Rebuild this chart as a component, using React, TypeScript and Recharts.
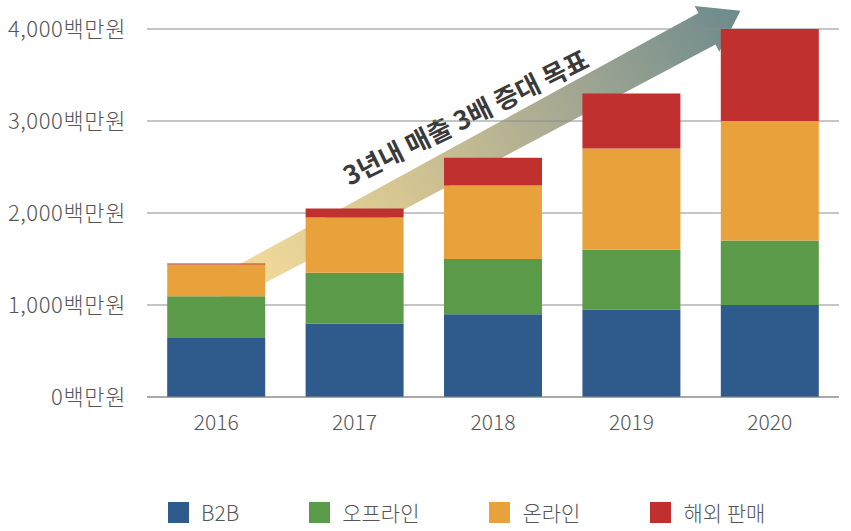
import { BarChart, Bar, XAxis, YAxis, CartesianGrid, Legend, ReferenceLine } from "recharts";

const years = ["2016", "2017", "2018", "2019", "2020"];
const seriesNames = ["B2B", "오프라인", "온라인", "해외 판매"];
const b2b = [640, 800, 900, 950, 1000];
const offline = [455, 550, 600, 650, 700];
const online = [345, 600, 800, 1100, 1300];
const overseas = [10, 100, 300, 600, 1000];
const yTicks = [0, 1000, 2000, 3000, 4000];

// 목표 화살표: 2016 중앙 → 2020 중앙을 지나는 선(값 기준)
const arrowLabel = "3년내 매출 3배 증대 목표";
const arrowFrom = 1130;
const arrowTo = 4370;

const COLORS = ["#2f5a8c", "#5b9a48", "#e9a23b", "#c0302f"];
const FONT = "'Noto Sans CJK KR', 'Noto Sans', sans-serif";

const rows = years.map((y, i) => ({
  year: y,
  b2b: b2b[i],
  offline: offline[i],
  online: online[i],
  overseas: overseas[i],
}));

function GoalArrow(props: any) {
  const { x1, y1, x2, y2 } = props;
  if (x1 == null || y1 == null) return <g />;
  const dx = x2 - x1;
  const dy = y2 - y1;
  const len = Math.hypot(dx, dy);
  const ux = dx / len;
  const uy = dy / len;
  const nx = -uy;
  const ny = ux;
  const at = (s: number, o: number) => [x1 + ux * s + nx * o, y1 + uy * s + ny * o];
  const sTail = len * 0.005;
  const sTip = len * 0.947;
  const sBase = sTip - 38;
  const pts = [
    at(sTail, -14),
    at(sBase, -18),
    at(sBase, -26),
    at(sTip, 0),
    at(sBase, 26),
    at(sBase, 18),
    at(sTail, 14),
  ];
  const [tx, ty] = at(sTail, 0);
  const [hx, hy] = at(sTip, 0);
  const [lx, ly] = at(len * 0.482, -38);
  const angle = (Math.atan2(dy, dx) * 180) / Math.PI + 2;
  return (
    <g>
      <defs>
        <linearGradient id="goalGrad" gradientUnits="userSpaceOnUse" x1={tx} y1={ty} x2={hx} y2={hy}>
          <stop offset="0" stopColor="#f6dd9c" />
          <stop offset="0.35" stopColor="#d5c692" />
          <stop offset="0.65" stopColor="#a9aa92" />
          <stop offset="1" stopColor="#6c8a8d" />
        </linearGradient>
      </defs>
      <polygon points={pts.map((p) => p.join(",")).join(" ")} fill="url(#goalGrad)" />
      <text
        x={lx}
        y={ly}
        transform={`rotate(${angle} ${lx} ${ly})`}
        textAnchor="middle"
        dominantBaseline="central"
        fontSize={26}
        fontWeight="bold"
        fill="#3a3a3a"
        fontFamily={FONT}
      >
        {arrowLabel}
      </text>
    </g>
  );
}

function LegendContent() {
  return (
    <div style={{ display: "flex", alignItems: "center", paddingLeft: 168, fontFamily: FONT }}>
      {seriesNames.map((n, i) => (
        <div key={n} style={{ display: "flex", alignItems: "center", marginRight: 70 }}>
          <span style={{ width: 21, height: 21, background: COLORS[i], display: "inline-block", marginRight: 12 }} />
          <span style={{ fontSize: 21, color: "#555", fontWeight: 300 }}>{n}</span>
        </div>
      ))}
    </div>
  );
}

export default function App() {
  return (
    <div style={{ position: "absolute", left: 0, top: 0, width: 851, height: 531, background: "#fff", fontFamily: FONT }}>
      <BarChart
        width={851}
        height={531}
        data={rows}
        margin={{ top: 29, right: 12, bottom: 0, left: 0 }}
        barCategoryGap="14.6%"
      >
        <ReferenceLine
          segment={[
            { x: "2016", y: arrowFrom },
            { x: "2020", y: arrowTo },
          ]}
          ifOverflow="visible"
          shape={(p: any) => <GoalArrow {...p} />}
          zIndex={-200}
        />
        <CartesianGrid vertical={false} stroke="#8c8c8c" />
        <XAxis
          dataKey="year"
          tickLine={false}
          axisLine={{ stroke: "#8c8c8c" }}
          tickSize={0}
          tickMargin={18}
          tick={{ fontSize: 21, fill: "#555", fontWeight: 300 }}
          height={104}
        />
        <YAxis
          domain={[0, 4000]}
          ticks={yTicks}
          width={147}
          tickLine={false}
          axisLine={false}
          tickSize={0}
          tickMargin={21}
          tick={{ fontSize: 22, fill: "#555", fontWeight: 300, letterSpacing: 0.6 }}
          tickFormatter={(v: number) => `${v.toLocaleString("en-US")}백만원`}
        />
        <Legend verticalAlign="bottom" content={<LegendContent />} wrapperStyle={{ left: 0, width: 851, bottom: 4 }} />
        <Bar dataKey="b2b" name={seriesNames[0]} stackId="a" fill={COLORS[0]} isAnimationActive={false} />
        <Bar dataKey="offline" name={seriesNames[1]} stackId="a" fill={COLORS[1]} isAnimationActive={false} />
        <Bar dataKey="online" name={seriesNames[2]} stackId="a" fill={COLORS[2]} isAnimationActive={false} />
        <Bar dataKey="overseas" name={seriesNames[3]} stackId="a" fill={COLORS[3]} isAnimationActive={false} />
      </BarChart>
    </div>
  );
}
